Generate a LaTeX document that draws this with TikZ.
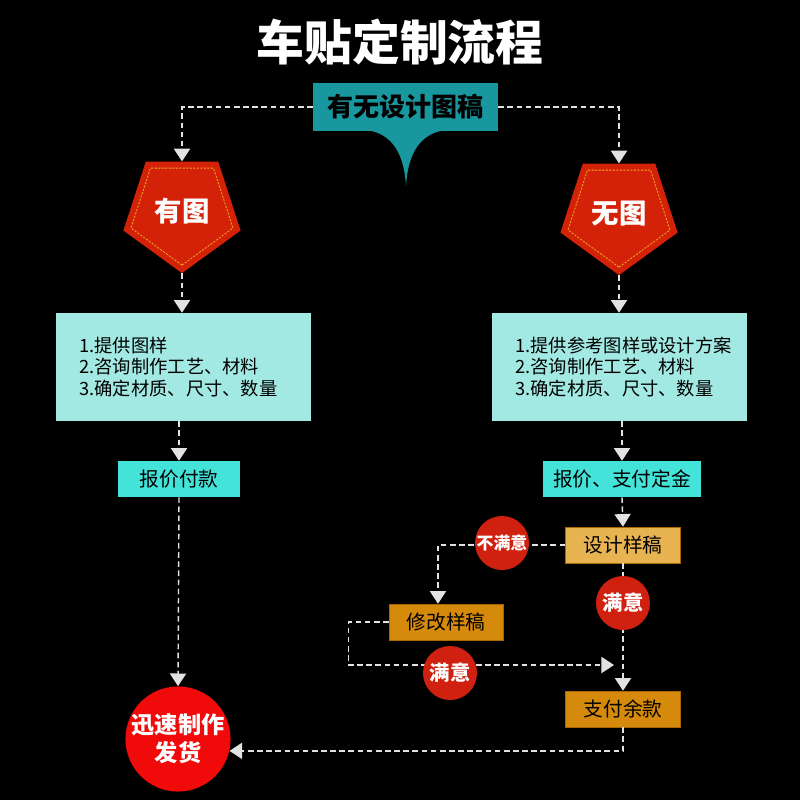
\documentclass[tikz,border=0pt]{standalone}
\usepackage{fontspec}
\newfontfamily\cjk{Noto Sans CJK SC}
\usetikzlibrary{arrows.meta,positioning,calc,shapes.geometric}
\definecolor{askc}{HTML}{18989E}
\definecolor{pentc}{HTML}{D42208}
\definecolor{stitch}{HTML}{F2A623}
\definecolor{cardc}{HTML}{A3E9E3}
\definecolor{tagc}{HTML}{44E3DA}
\definecolor{lightorg}{HTML}{E8B452}
\definecolor{orgc}{HTML}{D68A0C}
\definecolor{orgd}{HTML}{A86600}
\definecolor{dotc}{HTML}{D02010}
\definecolor{bigc}{HTML}{F00A0A}
\definecolor{linec}{HTML}{E2E2E2}

\begin{document}
\begin{tikzpicture}[x=0.025cm,y=-0.025cm,font=\cjk,
				ttl/.style={text=white,font=\cjk\bfseries\fontsize{34}{34}\selectfont},
				ask/.style={fill=askc,minimum width=4.625cm,minimum height=1.2cm,inner sep=0pt,font=\cjk\bfseries\fontsize{18.5}{18.5}\selectfont},
				pent/.style={regular polygon,regular polygon sides=5,shape border rotate=180,fill=pentc,minimum size=3.08cm,inner sep=0pt,text=white,font=\cjk\bfseries\fontsize{19.5}{19.5}\selectfont},
				pin/.style={regular polygon,regular polygon sides=5,shape border rotate=180,draw=stitch,dash pattern=on 1.5pt off 1pt,line width=0.6pt,minimum size=2.68cm,inner sep=0pt},
				card/.style={fill=cardc,minimum width=6.375cm,minimum height=2.7cm,text width=5.2cm,align=left,inner sep=0pt,font=\cjk\fontsize{13}{15}\selectfont},
				tag/.style={fill=tagc,minimum height=0.9cm,inner sep=0pt,font=\cjk\fontsize{14}{14}\selectfont},
				org/.style={tag,fill=orgc,draw=orgd,minimum width=2.875cm},
				dot/.style={circle,fill=dotc,minimum size=1.35cm,inner sep=0pt,text=white,font=\cjk\bfseries\fontsize{14.5}{14.5}\selectfont},
				big/.style={circle,fill=bigc,minimum size=2.55cm,inner sep=0pt,text=white,align=center,font=\cjk\bfseries\fontsize{16.5}{20}\selectfont},
				up/.style={draw=linec,line width=1pt,dash pattern=on 4pt off 2.5pt,-{Triangle[width=11.5pt,length=9pt]}}
				]
				\fill[black] (0,0) rectangle (800,800);
				\useasboundingbox (0,0) rectangle (800,800);
				
				\node[ttl] (title) at (400,42) {车贴定制流程};
				\node[ask] (ask) at (405.5,107) {有无设计图稿};
				\fill[askc] (366,130) .. controls (391,133) and (404,152) .. (406,186)
				.. controls (408,152) and (421,133) .. (446,130) -- cycle;
				
				\node[pent] (has) at (182,211.5) {有图};
				\node[pin] (hasin) at (182,211.5) {};
				\node[pent] (none) at (619,213.5) {无图};
				\node[pin] (nonein) at (619,213.5) {};
				
				\node[card] (cardL) at (183.5,367) {1.提供图样\\2.咨询制作工艺、材料\\3.确定材质、尺寸、数量};
				\node[card] (cardR) at (619.5,367) {1.提供参考图样或设计方案\\2.咨询制作工艺、材料\\3.确定材质、尺寸、数量};
				\node[tag,minimum width=3.05cm] (quoteL) at (179,479) {报价付款};
				\node[tag,minimum width=3.95cm] (quoteR) at (622,479) {报价、支付定金};
				
				\node[org,fill=lightorg] (design) at (623,545) {设计样稿};
				\node[org,minimum width=2.85cm] (revise) at (446,622) {修改样稿};
				\node[org] (pay) at (623,709) {支付余款};
				\node[big] (ship) at (178,739) {迅速制作\\发货};
				\coordinate (join) at (614,665);
				
				\draw[up] (ask.west) -| (has.90);
				\draw[up] (ask.east) -| (none.90);
				\draw[up] (has.270) -- (cardL.north -| has.270);
				\draw[up] (none.270) -- (cardR.north -| none.270);
				\draw[up] (cardL.south -| quoteL.north) -- (quoteL.north);
				\draw[up] (cardR.south -| quoteR.north) -- (quoteR.north);
				\draw[up] (quoteL.south) -- (ship.north);
				\draw[up] (quoteR.south) -- (design.north);
				\draw[up] (design.west) -| ([xshift=-0.2cm]revise.north);
				\draw[up] (design.south) -- (pay.north);
				\draw[up] (revise.west) -- ++(-40,0) |- (join);
				\draw[up] (pay.south) |- (ship.-13);
				
				\node[dot,font=\cjk\bfseries\fontsize{12}{12}\selectfont] (no) at (502,543) {不满意};
				\node[dot] (okA) at (623,603) {满意};
				\node[dot] (okB) at (450,673) {满意};
			\end{tikzpicture}
\end{document}
